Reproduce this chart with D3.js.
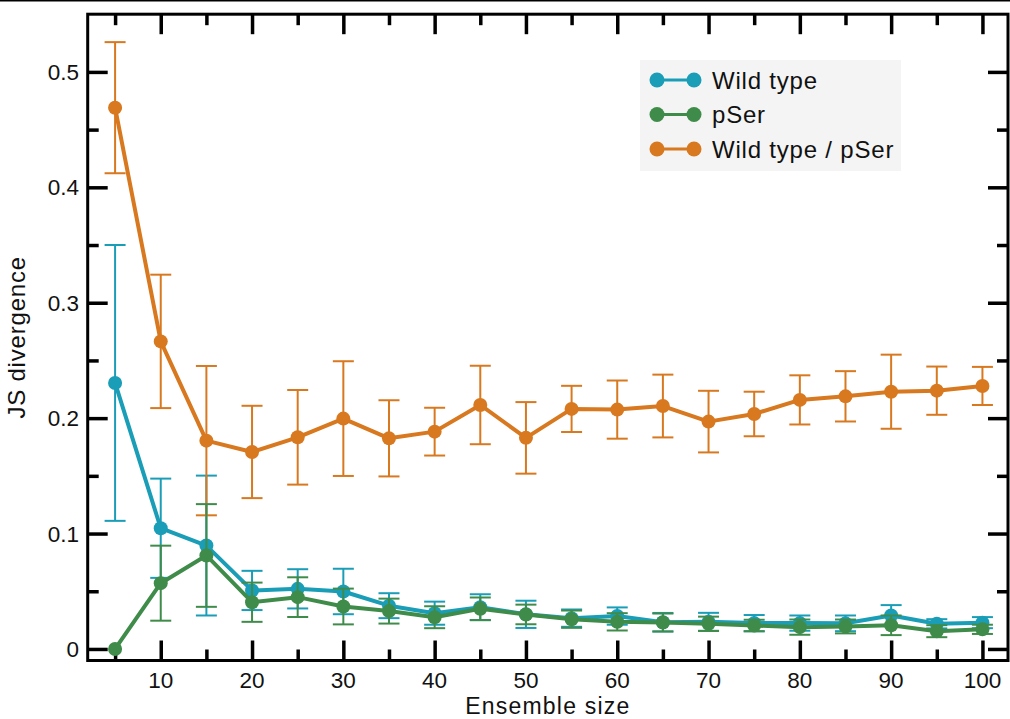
<!DOCTYPE html>
<html>
<head>
<meta charset="utf-8">
<script src="https://cdn.jsdelivr.net/npm/d3@7"></script>
<style>
  html, body { margin: 0; padding: 0; background: #fff; }
  svg { display: block; }
  text { font-family: "Liberation Sans", Arial, Helvetica, sans-serif; fill: #111; }
</style>
</head>
<body>
<svg id="chart" width="1010" height="719"></svg>
<script>
// Ensemble sizes on the x axis
const sizes = [5, 10, 15, 20, 25, 30, 35, 40, 45, 50, 55, 60, 65, 70, 75, 80, 85, 90, 95, 100];

// Mean JS divergence per ensemble size, with half-width of the error bars
const wildTypeMean = [0.2305, 0.1046, 0.0896, 0.0507, 0.0521, 0.0498, 0.0375, 0.0310, 0.0362, 0.0300,
                      0.0267, 0.0285, 0.0232, 0.0235, 0.0224, 0.0224, 0.0222, 0.0290, 0.0218, 0.0228];
const wildTypeErr  = [0.1195, 0.0430, 0.0606, 0.0170, 0.0170, 0.0197, 0.0108, 0.0100, 0.0112, 0.0118,
                      0.0075, 0.0075, 0.0080, 0.0078, 0.0070, 0.0066, 0.0068, 0.0090, 0.0040, 0.0048];

const pSerMean = [0.0000, 0.0570, 0.0810, 0.0405, 0.0449, 0.0368, 0.0328, 0.0275, 0.0348, 0.0299,
                  0.0258, 0.0235, 0.0229, 0.0218, 0.0203, 0.0189, 0.0195, 0.0205, 0.0154, 0.0170];
const pSerErr  = [0.0000, 0.0325, 0.0445, 0.0170, 0.0172, 0.0155, 0.0108, 0.0095, 0.0098, 0.0085,
                  0.0075, 0.0075, 0.0078, 0.0062, 0.0050, 0.0066, 0.0060, 0.0085, 0.0052, 0.0040];

const crossMean = [0.4690, 0.2665, 0.1805, 0.1707, 0.1834, 0.1996, 0.1825, 0.1883, 0.2114, 0.1829,
                   0.2080, 0.2074, 0.2105, 0.1970, 0.2036, 0.2158, 0.2189, 0.2229, 0.2238, 0.2279];
const crossErr  = [0.0568, 0.0578, 0.0647, 0.0400, 0.0410, 0.0497, 0.0330, 0.0207, 0.0340, 0.0310,
                   0.0200, 0.0252, 0.0272, 0.0267, 0.0193, 0.0213, 0.0218, 0.0321, 0.0209, 0.0165];

const seriesNames = ["Wild type", "pSer", "Wild type / pSer"];
const seriesColors = ["#1a9db7", "#3f8c4a", "#d8781f"];

const xTicksMajor = [10, 20, 30, 40, 50, 60, 70, 80, 90, 100];
const xTicksMinor = [5, 15, 25, 35, 45, 55, 65, 75, 85, 95];
const yTicksMajor = [0, 0.1, 0.2, 0.3, 0.4, 0.5];
const yTicksMinor = [0.05, 0.15, 0.25, 0.35, 0.45];

const xLabel = "Ensemble size";
const yLabel = "JS divergence";

// ---- layout ----
const frame = { left: 87.7, top: 14.2, right: 1008, bottom: 660.5 };

const svg = d3.select("#chart");

const x = d3.scaleLinear().domain([2, 102.8]).range([frame.left, frame.right]);
const y = d3.scaleLinear().domain([-0.01, 0.55]).range([frame.bottom, frame.top]);

// thin rule along the very top of the figure
svg.append("line")
  .attr("x1", 0).attr("x2", 1010).attr("y1", 0.75).attr("y2", 0.75)
  .attr("stroke", "#000").attr("stroke-width", 1.5);

// ---- axes: ticks point inward on all four sides ----
const majorLen = 20, minorLen = 11, tickW = 3.5;

function tickAxis(axisGen, scale, majors, minors, transform) {
  const gMaj = svg.append("g").attr("transform", transform)
    .call(axisGen(scale).tickValues(majors).tickSize(-majorLen).tickFormat(""));
  const gMin = svg.append("g").attr("transform", transform)
    .call(axisGen(scale).tickValues(minors).tickSize(-minorLen).tickFormat(""));
  [gMaj, gMin].forEach(g => {
    g.select(".domain").remove();
    g.selectAll(".tick line").attr("stroke", "#000").attr("stroke-width", tickW);
  });
}
tickAxis(d3.axisBottom, x, xTicksMajor, xTicksMinor, `translate(0,${frame.bottom})`);
tickAxis(d3.axisTop, x, xTicksMajor, xTicksMinor, `translate(0,${frame.top})`);
tickAxis(d3.axisLeft, y, yTicksMajor, yTicksMinor, `translate(${frame.left},0)`);
tickAxis(d3.axisRight, y, yTicksMajor, yTicksMinor, `translate(${frame.right},0)`);

// tick labels
const fmtY = d => d === 0 ? "0" : d3.format(".1f")(d);
svg.append("g").selectAll("text").data(xTicksMajor).join("text")
  .attr("x", d => x(d)).attr("y", 687.5)
  .attr("text-anchor", "middle")
  .style("font-size", "22.5px")
  .text(d => d);
svg.append("g").selectAll("text").data(yTicksMajor).join("text")
  .attr("x", 79).attr("y", d => y(d) + 8)
  .attr("text-anchor", "end")
  .style("font-size", "22.5px")
  .text(fmtY);

// axis titles
svg.append("text")
  .attr("x", (frame.left + frame.right) / 2).attr("y", 714)
  .attr("text-anchor", "middle")
  .style("font-size", "23px").style("letter-spacing", "1.2px")
  .text(xLabel);
svg.append("text")
  .attr("transform", `translate(25,${(frame.top + frame.bottom) / 2}) rotate(-90)`)
  .attr("text-anchor", "middle")
  .style("font-size", "24px").style("letter-spacing", "0.8px")
  .text(yLabel);

// ---- series ----
const series = [
  { name: seriesNames[0], color: seriesColors[0], mean: wildTypeMean, err: wildTypeErr },
  { name: seriesNames[2], color: seriesColors[2], mean: crossMean, err: crossErr },
  { name: seriesNames[1], color: seriesColors[1], mean: pSerMean, err: pSerErr }
];

const capHalf = 10.5;
const line = d3.line().x(d => x(d.size)).y(d => y(d.mean));

series.forEach(s => {
  const pts = sizes.map((size, i) => ({ size, mean: s.mean[i], err: s.err[i] }));
  const g = svg.append("g");

  // error bars
  const eb = g.append("g").attr("stroke", s.color).attr("stroke-width", 2).attr("fill", "none");
  pts.filter(p => p.err > 0).forEach(p => {
    const lo = y(p.mean - p.err), hi = y(p.mean + p.err), cx = x(p.size);
    eb.append("line").attr("x1", cx).attr("x2", cx).attr("y1", lo).attr("y2", hi);
    eb.append("line").attr("x1", cx - capHalf).attr("x2", cx + capHalf).attr("y1", lo).attr("y2", lo);
    eb.append("line").attr("x1", cx - capHalf).attr("x2", cx + capHalf).attr("y1", hi).attr("y2", hi);
  });

  // connecting line
  g.append("path").datum(pts)
    .attr("d", line)
    .attr("fill", "none")
    .attr("stroke", s.color)
    .attr("stroke-width", 4)
    .attr("stroke-linejoin", "round");

  // markers
  g.selectAll("circle").data(pts).join("circle")
    .attr("cx", d => x(d.size)).attr("cy", d => y(d.mean))
    .attr("r", 7).attr("fill", s.color);
});

// ---- frame ----
svg.append("rect")
  .attr("x", frame.left).attr("y", frame.top)
  .attr("width", frame.right - frame.left).attr("height", frame.bottom - frame.top)
  .attr("fill", "none").attr("stroke", "#000").attr("stroke-width", 3);

// ---- legend ----
const legend = svg.append("g").attr("transform", "translate(640,60)");
legend.append("rect")
  .attr("width", 261).attr("height", 111)
  .attr("fill", "#f4f4f4");
const legendRows = [0, 1, 2].map(i => ({ name: seriesNames[i], color: seriesColors[i] }));
const row = legend.selectAll("g.row").data(legendRows).join("g")
  .attr("class", "row")
  .attr("transform", (d, i) => `translate(0,${20 + i * 34.5})`);
row.append("line")
  .attr("x1", 17).attr("x2", 54).attr("y1", 0).attr("y2", 0)
  .attr("stroke", d => d.color).attr("stroke-width", 3);
row.append("circle").attr("cx", 17).attr("cy", 0).attr("r", 7.5).attr("fill", d => d.color);
row.append("circle").attr("cx", 54).attr("cy", 0).attr("r", 7.5).attr("fill", d => d.color);
row.append("text")
  .attr("x", 72).attr("y", 8.5)
  .style("font-size", "24px").style("letter-spacing", "0.8px")
  .text(d => d.name);
</script>
</body>
</html>
